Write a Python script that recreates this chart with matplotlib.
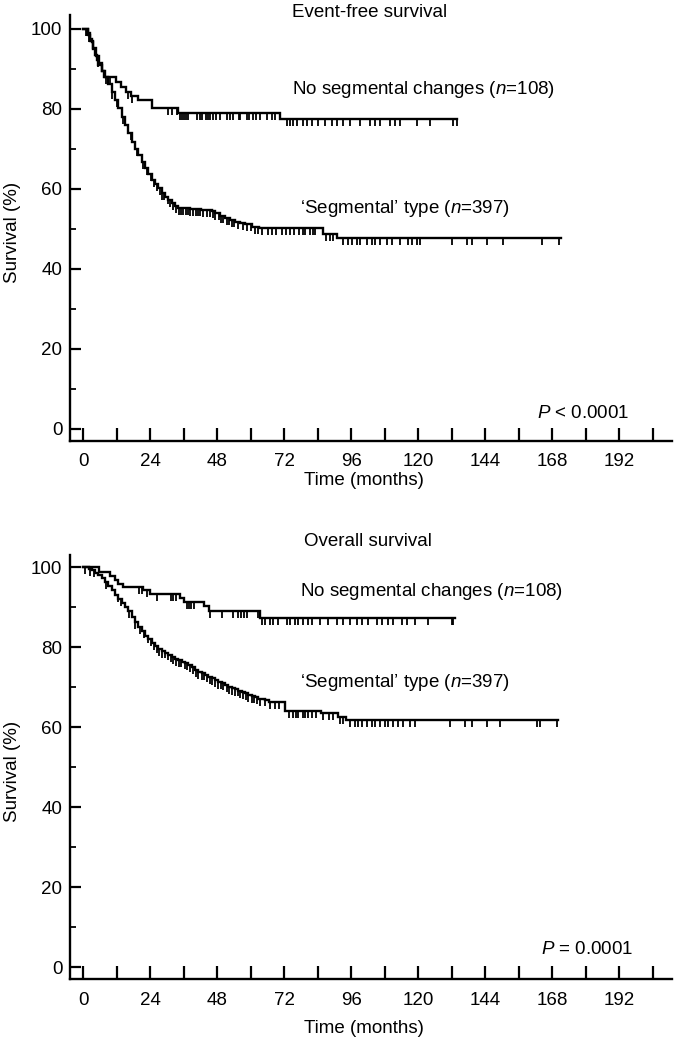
import matplotlib
matplotlib.use('Agg')
import matplotlib.pyplot as plt
from matplotlib.markers import TICKDOWN
from matplotlib.ticker import MultipleLocator
import numpy as np

plt.rcParams['font.family'] = ['Liberation Sans', 'DejaVu Sans']
plt.rcParams['mathtext.fontset'] = 'custom'
plt.rcParams['mathtext.rm'] = 'Liberation Sans'
plt.rcParams['mathtext.it'] = 'Liberation Sans:italic'
FS = 13.5

# ---- Event-free survival ----
efs_noseg_t = [0, 1.5, 2.5, 3.5, 4.5, 5.5, 6.5, 7.5, 11.8, 13.5, 15.3, 17.1, 19.5, 24.6, 33.8, 70.5]
efs_noseg_s = [100, 99.0, 97.1, 95.2, 93.3, 91.4, 89.5, 88.1, 86.8, 85.6, 84.3, 83.3, 82.3, 80.3, 79.0, 77.6]
efs_noseg_end = 134
efs_noseg_cens = [0.8, 1.3, 9.6, 16.0, 17.5, 30.3, 31.6, 33.4, 34.5, 35.2, 36.0, 36.9, 37.6, 40.6,
                  41.6, 42.4, 44.0, 44.7, 45.2, 46.5, 47.5, 48.9, 51.3, 52.5, 53.7, 55.6, 56.1, 58.5,
                  59.3, 60.9, 61.7, 63.3, 65.6, 67.4, 68.6, 72.8, 74.0, 75.2, 76.4, 78.8, 80.0, 81.8,
                  84.2, 86.6, 89.0, 90.8, 93.1, 95.5, 99.1, 102.7, 104.5, 106.3, 109.9, 111.6, 113.4,
                  119.4, 124.2, 132.5, 133.8]

efs_seg_t = [0, 1.7, 2.3, 2.9, 3.5, 4.1, 4.7, 5.3, 6.5, 7.7, 8.9, 10.1, 11.3, 12.5, 13.7, 14.9,
             16.1, 17.3, 18.5, 19.6, 20.8, 22.0, 23.2, 24.4, 25.6, 26.8, 28.0, 29.2, 30.4, 31.6,
             32.8, 34.0, 38.0, 42.0, 46.0, 47.1, 48.9, 50.7, 52.5, 54.3, 56.0, 57.9, 60.3, 63.0,
             86.0, 91.0]
efs_seg_s = [100, 98.5, 97.5, 96.8, 95.0, 93.5, 92.3, 91.0, 89.5, 88.1, 86.2, 84.3, 82.2, 80.2,
             78.1, 76.0, 73.9, 71.8, 70.1, 68.5, 66.8, 65.2, 63.7, 62.3, 61.2, 60.2, 59.1, 58.1,
             57.2, 56.4, 55.8, 55.2, 55.0, 54.8, 54.5, 53.9, 53.3, 52.7, 52.2, 51.8, 51.5, 51.2,
             50.6, 50.2, 48.8, 47.7]
efs_seg_end = 171
efs_seg_cens = [1.2, 1.9, 5.1, 8.2, 10.4, 12.1, 14.3, 17.2, 19.1, 21.3, 22.8, 24.1, 25.3, 26.2,
                27.4, 28.1, 29.0, 30.2, 30.9, 32.1, 33.2, 34.4, 35.1, 35.8, 36.6, 37.3, 38.2, 39.1,
                40.3, 41.2, 41.9, 43.0, 44.1, 45.2, 46.3, 47.2, 48.4, 49.3, 50.1, 51.4, 52.2, 53.3,
                54.1, 55.5, 57.2, 58.6, 60.1, 61.6, 62.5, 64.1, 66.2, 67.5, 69.1, 71.0, 72.6, 74.1,
                75.5, 77.2, 78.6, 79.5, 81.1, 82.2, 83.1, 87.0, 88.4, 89.6, 93.1, 94.9, 96.1, 97.9,
                99.1, 101.5, 103.3, 104.5, 106.3, 108.7, 110.5, 113.4, 116.4, 117.6, 119.4, 120.6,
                132.0, 137.5, 139.1, 144.5, 150.5, 164.2, 170.5]

# ---- Overall survival ----
os_noseg_t = [0, 5.5, 9.5, 11.3, 12.5, 14.0, 21.4, 24.0, 34.6, 36.2, 43.2, 44.9, 63.4]
os_noseg_s = [100, 98.8, 97.9, 96.8, 95.9, 95.1, 94.3, 93.4, 92.4, 91.4, 90.3, 89.1, 87.3]
os_noseg_end = 133
os_noseg_cens = [0.5, 19.9, 21.1, 22.9, 26.4, 31.2, 32.2, 33.0, 37.1, 37.8, 38.6, 39.5, 45.4, 49.6,
                 53.7, 55.5, 56.5, 57.5, 58.5, 62.7, 63.9, 65.1, 66.8, 68.0, 69.8, 72.8, 74.0, 75.8,
                 76.9, 78.8, 80.5, 81.8, 84.8, 87.8, 90.7, 93.1, 95.5, 97.9, 99.7, 102.0, 105.1,
                 106.9, 109.3, 111.0, 114.0, 115.8, 118.8, 123.6, 132.0, 132.5]

os_seg_t = [0, 2.0, 2.9, 4.1, 5.3, 6.5, 7.7, 8.9, 10.1, 11.3, 12.5, 13.7, 14.9, 16.1, 17.3, 18.5,
            19.6, 20.8, 22.0, 23.2, 24.4, 25.6, 26.8, 28.0, 29.2, 30.4, 31.6, 32.8, 34.0, 35.2,
            36.4, 37.6, 38.8, 40.0, 41.1, 42.3, 43.5, 44.7, 45.9, 47.1, 48.3, 49.5, 50.7, 51.9,
            53.1, 54.3, 55.5, 56.7, 57.9, 59.1, 60.3, 61.5, 62.7, 65.1, 66.5, 72.2, 85.3, 91.3,
            94.2]
os_seg_s = [100, 99.5, 99.3, 98.7, 98.1, 97.3, 96.4, 95.4, 94.3, 93.2, 92.2, 91.2, 90.2, 89.0,
            87.7, 86.4, 85.2, 84.0, 82.8, 82.0, 81.2, 80.4, 79.7, 79.2, 78.7, 78.2, 77.7, 77.2,
            76.8, 76.4, 76.0, 75.5, 75.0, 74.4, 73.9, 73.5, 73.1, 72.7, 72.3, 71.8, 71.4, 71.0,
            70.6, 70.2, 69.9, 69.5, 69.1, 68.8, 68.5, 68.1, 67.8, 67.5, 67.2, 66.8, 66.3, 64.2,
            63.5, 62.7, 61.8]
os_seg_end = 170.2
os_seg_cens = [2.5, 3.6, 8.1, 12.2, 13.4, 16.2, 18.6, 20.1, 21.8, 23.1, 24.2, 25.1, 26.3, 27.0,
               28.2, 29.1, 30.3, 31.2, 32.1, 33.3, 34.2, 35.1, 36.3, 37.2, 38.1, 39.3, 40.2, 41.1,
               42.3, 43.2, 44.1, 45.3, 46.2, 47.1, 48.3, 49.2, 50.1, 51.3, 52.2, 53.1, 54.3, 55.2,
               56.1, 57.3, 58.2, 59.1, 60.3, 61.2, 62.1, 63.2, 65.0, 67.0, 68.5, 70.0, 73.5, 75.0,
               76.0, 77.0, 78.5, 79.5, 80.5, 82.0, 83.5, 86.0, 88.0, 89.5, 92.0, 93.0, 95.5, 97.3,
               98.5, 99.7, 101.5, 103.3, 104.5, 106.3, 108.1, 109.3, 111.0, 112.8, 114.6, 117.0,
               118.8, 131.3, 136.7, 139.1, 144.5, 149.3, 162.4, 163.6, 169.6]


def km_curve(ax, t, s, t_end, cens):
    t = np.array(t + [t_end])
    s = np.array(s + [s[-1]])
    ax.step(t, s, where='post', color='black', lw=1.7, solid_joinstyle='miter')
    cens = np.array(cens)
    idx = np.searchsorted(t, cens, side='right') - 1
    ax.plot(cens, s[idx], linestyle='none', marker=TICKDOWN, ms=5, mew=1.3, color='black')


def style_axes(ax, ytop):
    ax.set_xlim(-4.84, 210.9)
    ax.set_ylim(-3, ytop)
    for side in ['top', 'right']:
        ax.spines[side].set_visible(False)
    for side in ['left', 'bottom']:
        ax.spines[side].set_linewidth(1.7)
    ax.set_yticks([0, 20, 40, 60, 80, 100])
    ax.yaxis.set_minor_locator(MultipleLocator(10))
    ax.set_xticks(range(0, 193, 24))
    ax.set_xticks(range(12, 205, 24), minor=True)
    ax.tick_params(axis='y', which='major', direction='in', length=8, width=1.6,
                   pad=5.5, labelsize=FS)
    ax.tick_params(axis='y', which='minor', direction='in', length=4, width=1.3)
    ax.tick_params(axis='x', which='both', direction='in', length=9.5, width=1.6,
                   pad=9, labelsize=FS)
    ax.set_ylabel('Survival (%)', fontsize=FS)
    ax.yaxis.set_label_coords(-0.096, 0.49)
    ax.yaxis.label.set_va('center')
    ax.set_xlabel('Time (months)', fontsize=FS)


fig = plt.figure(figsize=(6.78, 10.39), dpi=100)

ax1 = fig.add_axes([0.1032, 0.5756, 0.8879, 0.41])
km_curve(ax1, efs_noseg_t, efs_noseg_s, efs_noseg_end, efs_noseg_cens)
km_curve(ax1, efs_seg_t, efs_seg_s, efs_seg_end, efs_seg_cens)
style_axes(ax1, 103.5)
ax1.xaxis.set_label_coords(0.4875, -0.094)
ax1.xaxis.label.set_va('center')
ax1.text(102.7, 104.1, 'Event-free survival', ha='center', va='center', fontsize=FS, clip_on=False)
ax1.text(74.7, 84.8, r'No segmental changes ($\mathit{n}$=108)', ha='left', va='center', fontsize=FS)
ax1.text(77.6, 55.1, '\u2018Segmental\u2019 type ($\\mathit{n}$=397)', ha='left', va='center', fontsize=FS)
ax1.text(195.5, 3.9, r'$\mathit{P}$ < 0.0001', ha='right', va='center', fontsize=FS)

ax2 = fig.add_axes([0.1032, 0.05746, 0.8879, 0.4084])
km_curve(ax2, os_noseg_t, os_noseg_s, os_noseg_end, os_noseg_cens)
km_curve(ax2, os_seg_t, os_seg_s, os_seg_end, os_seg_cens)
style_axes(ax2, 103.1)
ax2.xaxis.set_label_coords(0.4875, -0.1148)
ax2.xaxis.label.set_va('center')
ax2.text(101.8, 106.4, 'Overall survival', ha='center', va='center', fontsize=FS, clip_on=False)
ax2.text(77.6, 94.0, r'No segmental changes ($\mathit{n}$=108)', ha='left', va='center', fontsize=FS)
ax2.text(77.6, 71.2, '\u2018Segmental\u2019 type ($\\mathit{n}$=397)', ha='left', va='center', fontsize=FS)
ax2.text(197.1, 4.5, r'$\mathit{P}$ = 0.0001', ha='right', va='center', fontsize=FS)

fig.savefig('out.png', dpi=100)
